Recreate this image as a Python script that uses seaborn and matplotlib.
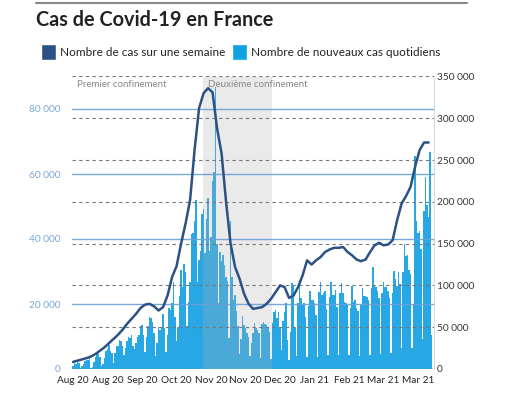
import numpy as np
import pandas as pd
import matplotlib
matplotlib.use("Agg")
import matplotlib.pyplot as plt
import seaborn as sns
from matplotlib.patches import Patch
from matplotlib.ticker import FuncFormatter

# ==========================================
# Données (en milliers de cas)
# ==========================================
# nouveaux cas quotidiens, un bar par jour publié (août 2020 -> début avril 2021)
cas_aout = [1.0, 1.7, 1.6, 2.3, 2.0, 0.3, 0.8, 1.4, 2.5, 2.7, 2.8, 3.3, 0.4, 0.5,
            2.2, 3.8, 4.8, 4.6, 3.6, 1.0, 1.4, 3.3, 5.4, 6.1, 7.4, 5.5, 4.9, 1.9]
cas_sept = [5.0, 7.0, 7.2, 9.0, 8.6, 7.1, 4.2, 6.5, 8.6, 9.8, 9.4, 10.6, 7.2, 6.2,
            7.9, 9.8, 10.6, 13.2, 13.5, 10.6, 5.3, 10.0, 13.1, 16.1, 15.8, 14.4,
            11.1, 4.1, 8.1, 12.8]
cas_oct = [12.1, 12.6, 17.0, 12.6, 5.1, 10.5, 18.7, 18.1, 20.3, 26.9, 16.1, 8.5,
           13.0, 22.6, 30.6, 25.1, 32.4, 29.8, 13.2, 20.5, 26.7, 41.6, 42.0, 45.4,
           52.0, 26.8, 33.4, 36.4, 47.6, 49.2, 35.6]
cas_nov = [46.3, 52.5, 36.3, 40.6, 58.0, 60.5, 86.9, 38.6, 20.2, 35.9, 33.2, 35.0,
           32.1, 28.4, 27.2, 9.4, 45.5, 28.4, 21.2, 22.9, 17.9, 13.2, 4.5, 9.2,
           16.3, 13.6, 12.5, 11.2, 9.8, 4.0]
cas_dec = [8.1, 11.0, 14.1, 12.7, 12.0, 11.0, 3.4, 13.7, 14.6, 13.8, 13.4, 12.9,
           11.5, 3.1, 14.1, 17.6, 18.3, 15.7, 17.6, 12.8, 6.0, 14.9, 17.6, 20.3,
           8.8, 2.9, 11.4, 26.5, 25.4]
cas_jan = [12.5, 4.0, 20.2, 25.4, 21.7, 19.8, 20.2, 15.9, 3.6, 19.5, 23.9, 21.2,
           21.3, 20.2, 16.6, 3.7, 23.6, 26.8, 22.8, 23.3, 23.9, 18.4, 4.3, 22.1,
           26.9, 22.9, 22.9, 24.4, 19.2]
cas_fev = [4.3, 23.3, 26.4, 23.4, 20.6, 20.3, 19.7, 4.3, 18.9, 25.4, 20.7, 21.2,
           18.9, 17.8, 4.0, 19.6, 25.0, 22.5, 22.4, 22.3, 21.2, 4.4, 24.8, 31.5,
           25.4, 25.2, 24.0, 22.0]
cas_mars = [4.7, 23.3, 26.8, 25.3, 25.3, 23.9, 21.8, 4.9, 23.3, 30.3, 27.6, 25.6,
            29.8, 26.3, 6.5, 29.9, 38.5, 34.9, 35.1, 30.6, 29.3, 6.5, 20.0, 65.4,
            45.6, 41.9, 42.6, 37.0, 9.1, 48.5, 59.0, 50.6, 46.7, 66.7, 10.5]

# nombre de cas sur une semaine (lu tous les 3 jours)
cas_semaine = [8.5, 10, 11.5, 13, 15, 18, 22, 26, 31, 36, 41, 47, 54, 60, 66, 73,
               77, 78, 75, 70, 74, 88, 110, 123, 150, 174, 202, 262, 312, 330,
               336, 331, 288, 258, 200, 150, 122, 108, 90, 78, 72, 73, 74, 78, 84,
               92, 100, 98, 85, 88, 98, 112, 130, 125, 130, 134, 140, 143, 145,
               145, 146, 140, 136, 131, 129, 131, 140, 148, 151, 148, 149, 154,
               178, 198, 207, 218, 242, 262, 271, 271]

tick_labels = ["Aug 20", "Aug 20", "Sep 20", "Oct 20", "Nov 20", "Nov 20",
               "Dec 20", "Jan 21", "Feb 21", "Mar 21", "Mar 21"]
tick_step = 23

# deuxième confinement (indices des jours)
confinement_debut = 86.5
confinement_fin = 132.5

COL_LINE = "#2b5185"
COL_BAR = "#27a7e4"

cas_jour = cas_aout + cas_sept + cas_oct + cas_nov + cas_dec + cas_jan + cas_fev + cas_mars
df_bar = pd.DataFrame({"jour": np.arange(len(cas_jour)), "cas": cas_jour})
df_line = pd.DataFrame({"jour": np.arange(0, 3 * len(cas_semaine), 3), "cas": cas_semaine})

sns.set_theme(style="white")
plt.rcParams['font.family'] = ['Lato', 'DejaVu Sans']

fig = plt.figure(figsize=(5.27, 3.95), dpi=100)
ax = fig.add_axes([72 / 527, 26 / 395, 362 / 527, 292.5 / 395])

sns.barplot(data=df_bar, x="jour", y="cas", color=COL_BAR, saturation=1,
            width=0.8, linewidth=0, ax=ax)
ax.axvspan(confinement_debut, confinement_fin, color="#b0b0b0", alpha=0.26,
           lw=0, zorder=1.5)

ax.set_xlim(-0.7, 240.6)
ax.set_ylim(0, 90)
ax.set_yticks([0, 20, 40, 60, 80])
fmt = FuncFormatter(lambda v, p: f"{int(round(v * 1000)):,}".replace(",", " "))
ax.yaxis.set_major_formatter(fmt)
ax.set_xticks(np.arange(0, tick_step * len(tick_labels), tick_step))
ax.set_xticklabels(tick_labels)
ax.tick_params(axis="x", length=0, pad=5, labelsize=7.2, labelcolor="#222222")
ax.tick_params(axis="y", length=0, pad=8, labelsize=7.3, labelcolor="#7ba7d9")
ax.set_xlabel("")
ax.set_ylabel("")
ax.set_axisbelow(False)
ax.yaxis.grid(True, color="#6b9fd6", lw=1.0, alpha=0.9)
ax.xaxis.grid(False)
for s in ax.spines.values():
    s.set_visible(False)

ax2 = ax.twinx()
sns.lineplot(data=df_line, x="jour", y="cas", color=COL_LINE, lw=1.8, ax=ax2)
ax2.set_ylim(0, 350)
ax2.set_yticks(np.arange(0, 351, 50))
ax2.yaxis.set_major_formatter(fmt)
ax2.tick_params(axis="y", length=0, pad=2, labelsize=7.3, labelcolor="#333333")
ax2.set_xlabel("")
ax2.set_ylabel("")
ax2.set_axisbelow(True)
ax2.yaxis.grid(True, color="#777777", lw=0.8, ls=(0, (3, 3)))
for k, s in ax2.spines.items():
    s.set_visible(k == "right")
ax2.spines["right"].set_color("#d5dbe3")
ax2.spines["right"].set_linewidth(0.8)

ax2.text(2.5, 340, "Premier confinement", fontsize=7, color="#888888", va="center")
ax2.text(confinement_debut + 3.5, 340, "Deuxième confinement", fontsize=7,
         color="#888888", va="center")

fig.add_artist(plt.Line2D([36 / 527, 467 / 527], [1 - 3 / 395, 1 - 3 / 395],
                          color="#888888", lw=1.5))
fig.text(36 / 527, 1 - 20 / 395, "Cas de Covid-19 en France", fontsize=14.3,
         fontweight="bold", color="#222222", va="center", ha="left")
handles = [Patch(facecolor=COL_LINE, label="Nombre de cas sur une semaine"),
           Patch(facecolor="#0ea2e4", label="Nombre de nouveaux cas quotidiens")]
fig.legend(handles=handles, loc="center left", bbox_to_anchor=(30 / 527, 1 - 52 / 395),
           ncol=2, frameon=False, fontsize=8.5, handlelength=1.3, handleheight=1.7,
           handletextpad=0.3, columnspacing=0.6, labelcolor="#222222")

fig.savefig("out.png", dpi=100)
